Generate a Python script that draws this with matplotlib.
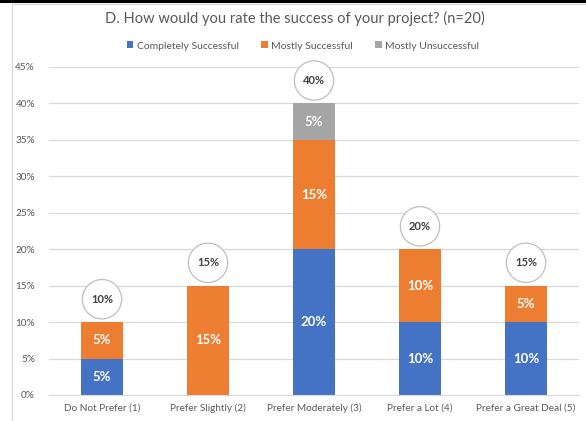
import matplotlib
matplotlib.use("Agg")
import matplotlib.pyplot as plt
from matplotlib.lines import Line2D
from matplotlib.ticker import PercentFormatter

# Data (percent of respondents)
categories = ["Do Not Prefer (1)", "Prefer Slightly (2)", "Prefer Moderately (3)",
              "Prefer a Lot (4)", "Prefer a Great Deal (5)"]
completely = [5, 0, 20, 10, 10]
mostly = [5, 15, 15, 10, 5]
unsuccessful = [0, 0, 5, 0, 0]
series_names = ["Completely Successful", "Mostly Successful", "Mostly Unsuccessful"]
colors = ["#4472C4", "#ED7D31", "#A5A5A5"]

plt.rcParams['font.family'] = ['Lato', 'DejaVu Sans']

fig = plt.figure(figsize=(5.86, 4.21), dpi=100)
ax = fig.add_axes([49/586, 1-395/421, (579-49)/586, (395-67)/421])

x = list(range(len(categories)))
bottom = [0]*len(categories)
for vals, name, col in zip([completely, mostly, unsuccessful], series_names, colors):
    bars = ax.bar(x, vals, width=0.4, bottom=bottom, color=col, label=name, zorder=2)
    labels = [f"{v}%" if v > 0 else "" for v in vals]
    ax.bar_label(bars, labels=labels, label_type='center', color='white',
                 fontsize=9.5, fontweight='bold')
    bottom = [b + v for b, v in zip(bottom, vals)]

# total in a circle above each bar
for xi, tot in zip(x, bottom):
    ax.annotate(f"{tot}%", (xi, tot), xytext=(0, 16.5), textcoords='offset points',
                ha='center', va='center', fontsize=8, color='#404040', fontweight='bold',
                bbox=dict(boxstyle='circle,pad=0.78', fc='white', ec='#BFBFBF', lw=0.9))

ax.set_ylim(0, 45)
ax.set_xlim(-0.5, 4.5)
ax.set_yticks(range(0, 50, 5))
ax.yaxis.set_major_formatter(PercentFormatter(decimals=0))
ax.set_xticks(x)
ax.set_xticklabels(categories)
ax.tick_params(axis='both', length=0, labelsize=7.2, colors='#595959')
ax.tick_params(axis='x', pad=6)
ax.tick_params(axis='y', pad=10)
ax.grid(axis='y', color='#D9D9D9', lw=0.9, zorder=0)
for s in ['top', 'right', 'left']:
    ax.spines[s].set_visible(False)
ax.spines['bottom'].set_color('#D9D9D9')

fig.text(295/586, 1-18/421, "D. How would you rate the success of your project? (n=20)",
         ha='center', va='center', fontsize=10.5, color='#595959')
fig.legend(loc='center', bbox_to_anchor=(303/586, 1-46/421), ncol=3, frameon=False,
           fontsize=7.5, handlelength=0.65, handleheight=0.65, handletextpad=0.35,
           columnspacing=2.1, labelcolor='#595959')

# screenshot frame
fig.add_artist(Line2D([0, 1], [1-1/421, 1-1/421], color='black', lw=2.2))
fig.add_artist(Line2D([12/586, 1], [1-3.5/421, 1-3.5/421], color='#D9D9D9', lw=0.9))
fig.add_artist(Line2D([12/586, 12/586], [0, 1-3.5/421], color='#D9D9D9', lw=0.9))

fig.savefig("out.png", dpi=100)
